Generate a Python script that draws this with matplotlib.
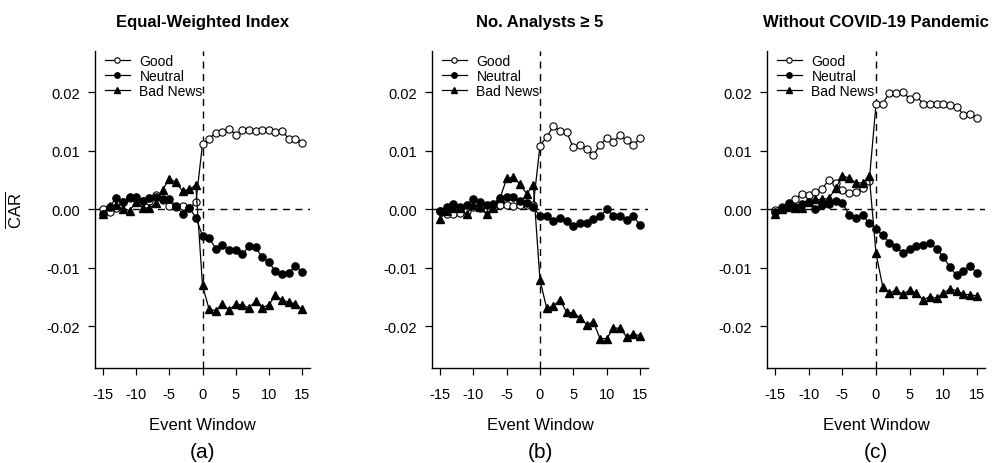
import numpy as np
import matplotlib
matplotlib.use("Agg")
import matplotlib.pyplot as plt

plt.rcParams['font.family'] = ['Liberation Sans', 'DejaVu Sans']
plt.rcParams['mathtext.fontset'] = 'custom'
plt.rcParams['mathtext.rm'] = 'Liberation Sans'
plt.rcParams['axes.unicode_minus'] = False

event_window = list(range(-15, 16))

titles = ["Equal-Weighted Index", "No. Analysts \u2265 5", "Without COVID-19 Pandemic"]
panel_tags = ["(a)", "(b)", "(c)"]
series_labels = ["Good", "Neutral", "Bad News"]

# panel (a) equal-weighted index
good_a = [0.0000, -0.0005, 0.0003, 0.0012, 0.0020, 0.0018, 0.0015, 0.0014, 0.0025, 0.0016,
          0.0006, 0.0005, 0.0006, 0.0002, 0.0012, 0.0112, 0.0121, 0.0131, 0.0133, 0.0138,
          0.0128, 0.0135, 0.0135, 0.0134, 0.0135, 0.0135, 0.0132, 0.0134, 0.0121, 0.0121, 0.0114]
neutral_a = [-0.0008, 0.0005, 0.0019, 0.0012, 0.0022, 0.0021, 0.0014, 0.0020, 0.0022, 0.0017,
             0.0018, 0.0006, -0.0007, 0.0003, -0.0014, -0.0045, -0.0049, -0.0067, -0.0060, -0.0069,
             -0.0069, -0.0077, -0.0063, -0.0065, -0.0082, -0.0090, -0.0106, -0.0110, -0.0109, -0.0096, -0.0107]
bad_a = [-0.0007, 0.0006, 0.0007, 0.0001, -0.0002, 0.0012, 0.0003, 0.0002, 0.0011, 0.0034,
         0.0052, 0.0047, 0.0031, 0.0035, 0.0041, -0.0130, -0.0171, -0.0173, -0.0162, -0.0172,
         -0.0162, -0.0164, -0.0168, -0.0157, -0.0168, -0.0163, -0.0147, -0.0155, -0.0159, -0.0161, -0.0171]

# panel (b) no. analysts >= 5
good_b = [-0.0003, -0.0007, -0.0008, -0.0006, -0.0003, 0.0005, 0.0002, -0.0001, 0.0002, 0.0008,
          0.0007, 0.0006, 0.0007, 0.0008, 0.0008, 0.0109, 0.0124, 0.0142, 0.0134, 0.0132,
          0.0106, 0.0111, 0.0103, 0.0093, 0.0110, 0.0122, 0.0116, 0.0127, 0.0118, 0.0110, 0.0122]
neutral_b = [-0.0003, 0.0005, 0.0010, 0.0005, 0.0008, 0.0017, 0.0013, 0.0008, 0.0010, 0.0019,
             0.0021, 0.0021, 0.0014, 0.0011, 0.0004, -0.0011, -0.0011, -0.0020, -0.0014, -0.0020,
             -0.0028, -0.0023, -0.0023, -0.0017, -0.0012, 0.0000, -0.0011, -0.0011, -0.0018, -0.0011, -0.0027]
bad_b = [-0.0016, -0.0003, 0.0002, 0.0003, -0.0008, 0.0008, 0.0005, -0.0007, 0.0003, 0.0019,
         0.0053, 0.0055, 0.0043, 0.0027, 0.0041, -0.0121, -0.0169, -0.0165, -0.0155, -0.0176,
         -0.0177, -0.0185, -0.0197, -0.0192, -0.0221, -0.0221, -0.0203, -0.0203, -0.0218, -0.0213, -0.0216]

# panel (c) without covid-19 period
good_c = [-0.0001, 0.0005, 0.0010, 0.0018, 0.0026, 0.0024, 0.0030, 0.0035, 0.0051, 0.0046,
          0.0034, 0.0028, 0.0030, 0.0037, 0.0049, 0.0180, 0.0181, 0.0199, 0.0199, 0.0201,
          0.0189, 0.0194, 0.0181, 0.0181, 0.0181, 0.0180, 0.0179, 0.0176, 0.0162, 0.0164, 0.0156]
neutral_c = [-0.0004, 0.0002, 0.0011, 0.0005, 0.0009, 0.0012, 0.0000, 0.0008, 0.0010, 0.0015,
             0.0011, -0.0009, -0.0015, -0.0009, -0.0024, -0.0034, -0.0044, -0.0057, -0.0064, -0.0075,
             -0.0067, -0.0063, -0.0060, -0.0057, -0.0067, -0.0081, -0.0099, -0.0113, -0.0105, -0.0097, -0.0109]
bad_c = [-0.0008, 0.0001, 0.0005, 0.0003, 0.0002, 0.0013, 0.0017, 0.0017, 0.0019, 0.0036,
         0.0057, 0.0054, 0.0046, 0.0045, 0.0057, -0.0075, -0.0132, -0.0143, -0.0138, -0.0145,
         -0.0138, -0.0143, -0.0155, -0.0149, -0.0152, -0.0143, -0.0136, -0.0139, -0.0145, -0.0146, -0.0148]

panels = [(good_a, neutral_a, bad_a), (good_b, neutral_b, bad_b), (good_c, neutral_c, bad_c)]

x_ticks = [-15, -10, -5, 0, 5, 10, 15]
y_ticks = [-0.02, -0.01, 0.0, 0.01, 0.02]
y_tick_labels = ["-0.02", "-0.01", "0.00", "0.01", "0.02"]

fig = plt.figure(figsize=(10, 4.64), dpi=100)
lefts = [0.095, 0.432, 0.767]
widths = [0.215, 0.216, 0.218]

for i, (good, neutral, bad) in enumerate(panels):
    ax = fig.add_axes([lefts[i], 0.205, widths[i], 0.683])
    ax.axvline(0, color='black', ls=(0, (5, 4)), lw=1)
    ax.axhline(0, color='black', ls=(0, (5, 4)), lw=1)
    ax.plot(event_window, good, '-o', color='black', lw=0.9, ms=5.2,
            mfc='white', mec='black', mew=0.8, label=series_labels[0])
    ax.plot(event_window, neutral, '-o', color='black', lw=0.9, ms=5.2,
            mfc='black', mec='black', label=series_labels[1])
    ax.plot(event_window, bad, '-^', color='black', lw=0.9, ms=5.6,
            mfc='black', mec='black', label=series_labels[2])

    ax.set_xlim(-16.2, 16.2)
    ax.set_ylim(-0.0271, 0.0271)
    ax.set_xticks(x_ticks)
    ax.set_xticklabels([str(t) for t in x_ticks])
    ax.set_yticks(y_ticks)
    ax.set_yticklabels(y_tick_labels)
    ax.tick_params(direction='out', length=5, width=0.9, labelsize=10.5)
    ax.tick_params(axis='x', pad=9)
    ax.tick_params(axis='y', pad=6)
    for side in ['top', 'right']:
        ax.spines[side].set_visible(False)
    for side in ['left', 'bottom']:
        ax.spines[side].set_linewidth(1)

    ax.set_title(titles[i], fontsize=12, fontweight='bold', pad=18)
    ax.set_xlabel("Event Window", fontsize=12, labelpad=11)
    ax.text(0.5, -0.265, panel_tags[i], transform=ax.transAxes,
            ha='center', va='center', fontsize=15)
    if i == 0:
        ax.set_ylabel(r'$\overline{\mathrm{CAR}}$', fontsize=12, labelpad=16)

    ax.legend(loc='upper left', bbox_to_anchor=(0.0, 1.02), frameon=False,
              fontsize=10, handlelength=1.8, labelspacing=0.05, handletextpad=0.7,
              borderaxespad=0.3, markerscale=0.75)

fig.savefig("out.png", dpi=100)
